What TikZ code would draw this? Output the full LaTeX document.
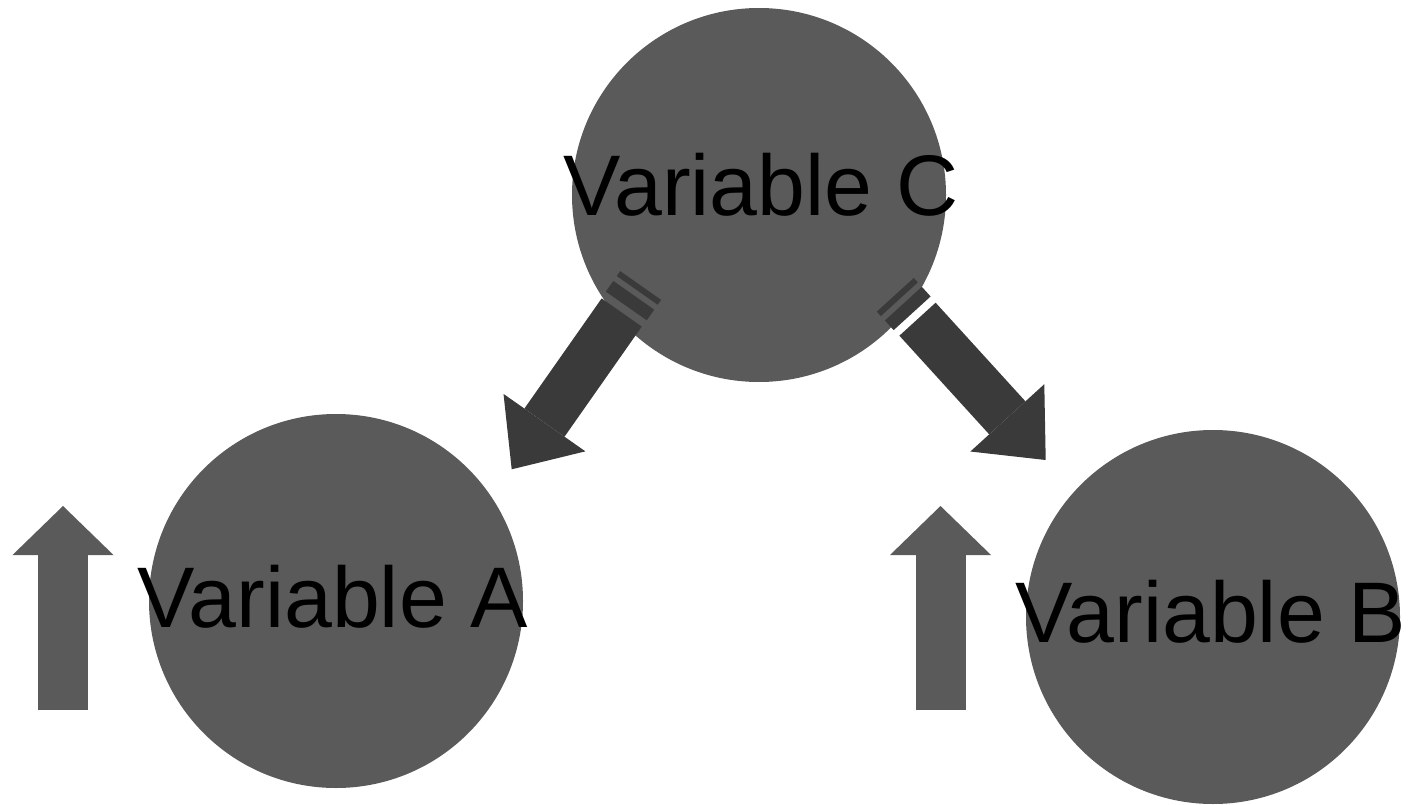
\documentclass[tikz,border=0pt]{standalone}
\usepackage{fontspec}
\setmainfont{Liberation Sans}
\usepackage{xcolor}
\usetikzlibrary{arrows.meta,calc}
\definecolor{nodegray}{HTML}{5A5A5A}
\definecolor{arrowgray}{HTML}{3A3A3A}

\begin{document}
\begin{tikzpicture}[x=1pt,y=-1pt]
\useasboundingbox (0,0) rectangle (1410,805);

\begin{scope}[every node/.style={circle,fill=nodegray,minimum size=374pt,inner sep=0pt}]
	\node (varC) at (759,195) {};
	\node (varA) at (336,601) {};
	\node (varB) at (1213,617) {};
\end{scope}

\begin{scope}[every node/.style={anchor=base,inner sep=0pt,font=\fontsize{86}{100}\selectfont}]
	\node (textC) at (761,215) {Variable C};
	\node (textA) at (333,627) {Variable A};
	\node (textB) at (1211,642) {Variable B};
\end{scope}

\coordinate (tailA) at (621.7,312.5);
\coordinate (tipA) at (511.7,469.3);
\coordinate (tailB) at (917.5,319.2);
\coordinate (tipB) at (1045.7,460);
\coordinate (upA0) at (63,710);
\coordinate (upA1) at (63,506);
\coordinate (upB0) at (940.5,710);
\coordinate (upB1) at (940.5,506);

\begin{scope}[arrowgray]
	\draw[line width=49pt,-{Triangle[length=57pt,width=100pt,line width=0pt]}] (tailA) -- (tipA);
	\draw[line width=49pt,-{Triangle[length=57pt,width=100pt,line width=0pt]}] (tailB) -- (tipB);
	% double bars at the tails
	\foreach \t/\h in {tailA/tipA,tailB/tipB}{
		\draw[line width=13pt] ($(\t)!-14.5pt!(\h)!25pt!90:(\h)$) -- ($(\t)!-14.5pt!(\h)!25pt!-90:(\h)$);
		\draw[line width=6pt] ($(\t)!-30pt!(\h)!25pt!90:(\h)$) -- ($(\t)!-30pt!(\h)!25pt!-90:(\h)$);
	}
\end{scope}

\begin{scope}[nodegray,line width=50pt]
	\draw[-{Triangle[length=49pt,width=101pt,line width=0pt]}] (upA0) -- (upA1);
	\draw[-{Triangle[length=49pt,width=101pt,line width=0pt]}] (upB0) -- (upB1);
\end{scope}
\end{tikzpicture}
\end{document}
